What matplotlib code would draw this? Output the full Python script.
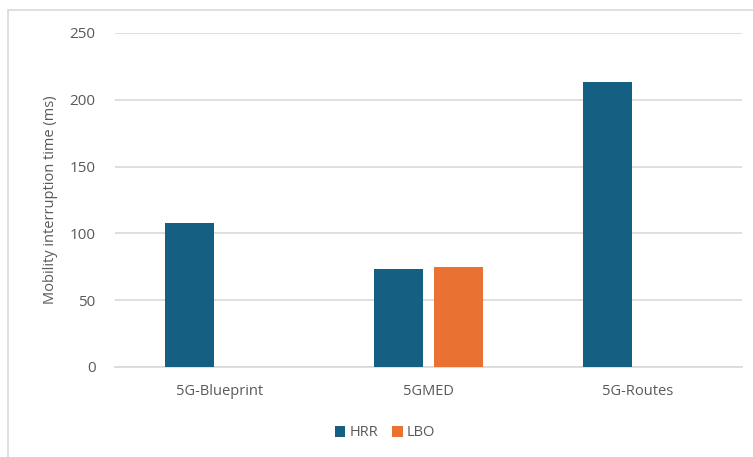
import matplotlib
matplotlib.use("Agg")
import matplotlib.pyplot as plt
from matplotlib.patches import Rectangle
import numpy as np

categories = ["5G-Blueprint", "5GMED", "5G-Routes"]
hrr = [108, 73, 213]
lbo = [np.nan, 75, np.nan]
yticks = [0, 50, 100, 150, 200, 250]

plt.rcParams['font.family'] = ['Open Sans', 'DejaVu Sans']

fig = plt.figure(figsize=(7.53, 4.57), dpi=100)
fig.patches.append(Rectangle((8/753, -0.05), 1.0, 1.05-10/457, transform=fig.transFigure,
                             fill=False, edgecolor="#D9D9D9", linewidth=1.2))
ax = fig.add_axes([115/753, 1-367/457, (742-115)/753, (367-33)/457])

x = np.arange(len(categories))
w = 0.23
off = 0.1435
ax.bar(x - off, hrr, w, color="#156082", label="HRR", zorder=3)
ax.bar(x + off, lbo, w, color="#E97132", label="LBO", zorder=3)

ax.set_xlim(-0.5, 2.5)
ax.set_ylim(0, 250)
ax.set_yticks(yticks)
ax.set_xticks(x)
ax.set_xticklabels(categories)
ax.grid(axis="y", color="#D9D9D9", linewidth=1.2, zorder=0)
for s in ["top", "right", "left"]:
    ax.spines[s].set_visible(False)
ax.spines["bottom"].set_color("#D9D9D9")
ax.spines["bottom"].set_linewidth(1.2)
ax.tick_params(axis="both", length=0, colors="#595959", labelsize=10.5)
ax.tick_params(axis="y", labelsize=11, pad=14)
ax.tick_params(axis="x", pad=12)
ax.set_ylabel("Mobility interruption time (ms)", color="#595959", fontsize=10.5, labelpad=8)

ax.legend(loc="center", bbox_to_anchor=(385/753, 1-433/457), bbox_transform=fig.transFigure,
          ncol=2, frameon=False, fontsize=10.5, handlelength=0.7, handleheight=0.7,
          handletextpad=0.3, columnspacing=1.0, labelcolor="#595959")

fig.savefig("out.png", dpi=100)
